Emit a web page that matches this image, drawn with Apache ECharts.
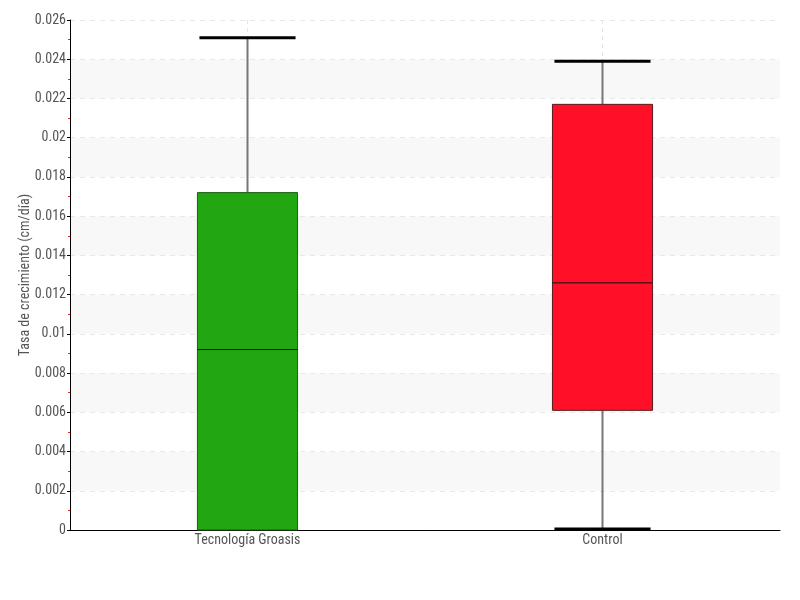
<!DOCTYPE html>
<html><head><meta charset="utf-8">
<script src="https://cdn.jsdelivr.net/npm/echarts@6/dist/echarts.min.js"></script>
<style>html,body{margin:0;padding:0;background:#fff}#c{width:800px;height:600px}</style>
</head><body><div id="c"></div>
<script>
const categories = ['Tecnología Groasis', 'Control'];
const whiskerLow = [0, 0.00005];
const q1 = [0, 0.0061];
const median = [0.0092, 0.0126];
const q3 = [0.0172, 0.0217];
const whiskerHigh = [0.0251, 0.0239];
const fillColors = ['#22a611', '#ff0f28'];
const borderColors = ['#1f5c14', '#5a1a1a'];

const FONT = '"Roboto Condensed", "Liberation Sans Narrow", "Roboto", sans-serif';
const data = categories.map((c, i) => [i, whiskerLow[i], q1[i], median[i], q3[i], whiskerHigh[i]]);

const chart = echarts.init(document.getElementById('c'));
chart.setOption({
  animation: false,
  grid: { left: 70, right: 20, top: 20, bottom: 70 },
  xAxis: {
    type: 'category', data: categories,
    axisLine: { lineStyle: { color: '#000', width: 1 } },
    axisTick: { show: false },
    axisLabel: { color: '#555', fontFamily: FONT, fontSize: 14, margin: 3 },
    splitLine: { show: false }
  },
  yAxis: {
    type: 'value', min: 0, max: 0.026, interval: 0.002,
    name: 'Tasa de crecimiento (cm/día)', nameLocation: 'middle', nameGap: 38,
    nameMoveOverlap: false,
    nameTextStyle: { color: '#555', fontFamily: FONT, fontSize: 14 },
    axisLine: { show: true, lineStyle: { color: '#000', width: 1 } },
    axisTick: { show: true, length: 3, lineStyle: { color: '#000' } },
    minorTick: { show: true, splitNumber: 2, length: 2, lineStyle: { color: '#f22' } },
    axisLabel: { color: '#555', fontFamily: FONT, fontSize: 14, margin: 4 },
    splitLine: { show: true, lineStyle: { color: '#e8e8e8', type: [5, 5] } },
    splitArea: { show: true, areaStyle: { color: ['#ffffff', '#f8f8f8'] } }
  },
  series: [{
    type: 'custom',
    data: data,
    encode: { x: 0, y: [1, 2, 3, 4, 5] },
    renderItem: function (params, api) {
      const i = api.value(0);
      const bw = api.size([1, 0])[0] * 0.282;
      const cw = bw * 0.96;
      const pLow = api.coord([i, api.value(1)]);
      const pQ1 = api.coord([i, api.value(2)]);
      const pMed = api.coord([i, api.value(3)]);
      const pQ3 = api.coord([i, api.value(4)]);
      const pHigh = api.coord([i, api.value(5)]);
      const x = pMed[0];
      const top = params.coordSys.y;
      const bottom = params.coordSys.y + params.coordSys.height;
      const children = [
        { type: 'line', shape: { x1: x, y1: top, x2: x, y2: bottom }, style: { stroke: '#e6e6e6', lineWidth: 1, lineDash: [4, 4] } },
        { type: 'line', shape: { x1: x, y1: pQ3[1], x2: x, y2: pHigh[1] }, style: { stroke: '#777', lineWidth: 2 } },
        { type: 'line', shape: { x1: x, y1: pQ1[1], x2: x, y2: pLow[1] }, style: { stroke: '#777', lineWidth: 2 } },
        { type: 'rect', shape: { x: x - bw / 2, y: pQ3[1], width: bw, height: pQ1[1] - pQ3[1] },
          style: { fill: fillColors[i], stroke: borderColors[i], lineWidth: 1 } },
        { type: 'line', shape: { x1: x - bw / 2, y1: pMed[1], x2: x + bw / 2, y2: pMed[1] }, style: { stroke: '#111', lineWidth: 1 } },
        { type: 'line', shape: { x1: x - cw / 2, y1: pHigh[1], x2: x + cw / 2, y2: pHigh[1] }, style: { stroke: '#000', lineWidth: 3 } }
      ];
      if (api.value(1) !== api.value(2)) {
        children.push({ type: 'line', shape: { x1: x - cw / 2, y1: pLow[1], x2: x + cw / 2, y2: pLow[1] }, style: { stroke: '#000', lineWidth: 3 } });
      }
      return { type: 'group', children: children };
    }
  }]
});
</script></body></html>
